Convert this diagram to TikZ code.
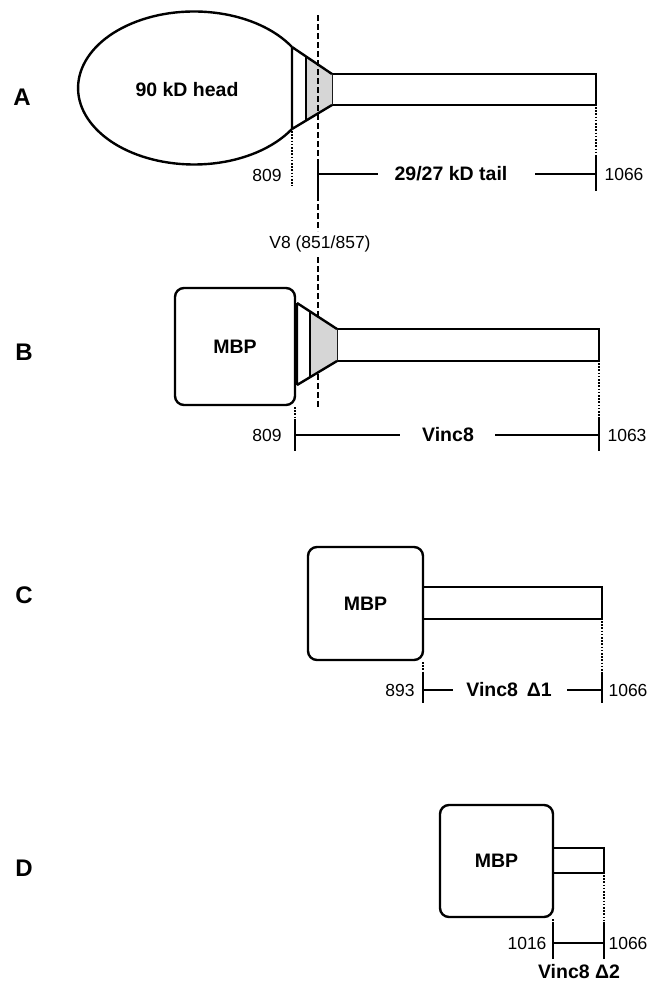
\documentclass[tikz,border=0pt]{standalone}
\usepackage{fontspec}
\setmainfont{Liberation Sans}
\begin{document}
\begin{tikzpicture}[x=1pt,y=-1pt,
  outline/.style={draw=black, line width=2.4pt, line join=round},
  tailbox/.style={draw=black, line width=2.4pt, inner sep=0pt, outer sep=0pt},
  mbpbox/.style={draw=black, line width=2.4pt, rounded corners=9pt, inner sep=0pt, outer sep=0pt,
                 font=\bfseries\fontsize{19.5}{22}\selectfont},
  band/.style={draw=black, line width=1.8pt},
  shadefill/.style={fill=black!16},
  dimline/.style={draw=black, line width=2pt},
  tickline/.style={draw=black, line width=2.4pt},
  dotline/.style={draw=black, line width=1.8pt, dash pattern=on 1.6pt off 1.6pt},
  cutline/.style={draw=black, line width=2pt, dash pattern=on 6pt off 3pt},
  lbl/.style={font=\fontsize{17.5}{20}\selectfont, inner sep=0pt},
  blbl/.style={font=\bfseries\fontsize{19.5}{22}\selectfont, inner sep=0pt},
  letter/.style={font=\bfseries\fontsize{24}{28}\selectfont, inner sep=0pt}]
\useasboundingbox (0,0) rectangle (652,985);

% ---------------- Panel A ----------------
\node[letter] (lA) at (22,97) {A};
\draw[outline] (292,47) arc[start angle=32.4, end angle=327.6, x radius=116pt, y radius=76.5pt];
\node[blbl] (head) at (187,90) {90 kD head};
\node[tailbox, minimum width=264, minimum height=31] (tailA) at (464,89.5) {};
\fill[shadefill] (306,56.5) -- (tailA.north west) -- (tailA.south west) -- (306,120.6) -- cycle;
\draw[outline] (292,47) -- (tailA.north west) (292,129) -- (tailA.south west) (292,47) -- (292,129);
\draw[band] (306,56.5) -- (306,120.6);
\draw[dotline] (292,131) -- (292,186);
\node[lbl] (n809A) at (267,175) {809};
\draw[dotline] (tailA.south east) ++(0,2) -- (596,156);
\coordinate (tAl) at (318,174);
\coordinate (tAr) at (596,174);
\draw[tickline] (318,160) -- (318,201);
\draw[tickline] (596,156) -- (596,191);
\node[blbl] (tailtxt) at (451,174) {29/27 kD tail};
\draw[dimline] (tAl) -- (378,174);
\draw[dimline] (535,174) -- (tAr);
\node[lbl] (n1066A) at (624,174) {1066};
% V8 cut
\node[lbl] (v8) at (320,244) {V8 (851/857)};
\draw[cutline] (318,15) -- (318,231);
\draw[cutline] (318,257) -- (318,408);

% ---------------- Panel B ----------------
\node[letter] (lB) at (24,352) {B};
\node[mbpbox, minimum width=120, minimum height=117] (mbpB) at (235,346.5) {MBP};
\node[tailbox, minimum width=262, minimum height=32] (tailB) at (468,345) {};
\fill[shadefill] (310,311.8) -- (tailB.north west) -- (tailB.south west) -- (310,377) -- cycle;
\draw[outline] (297,303) -- (tailB.north west) (297,385) -- (tailB.south west) (297,303) -- (297,385);
\draw[band] (310,311.8) -- (310,377);
\draw[dotline] (295,407) -- (295,419);
\draw[dotline] (tailB.south east) ++(0,2) -- (599,419);
\draw[tickline] (295,419) -- (295,451);
\draw[tickline] (599,419) -- (599,451);
\node[blbl] (vinc8) at (448,435) {Vinc8};
\draw[dimline] (295,435) -- (400,435);
\draw[dimline] (495,435) -- (599,435);
\node[lbl] (n809B) at (267,435) {809};
\node[lbl] (n1063B) at (627,435) {1063};

% ---------------- Panel C ----------------
\node[letter] (lC) at (24,595) {C};
\node[mbpbox, minimum width=115, minimum height=113] (mbpC) at (365.5,603.5) {MBP};
\node[tailbox, minimum width=179, minimum height=32] (tailC) at (512.5,603) {};
\draw[dotline] (mbpC.south east) ++(0,2) -- (423,672);
\draw[dotline] (tailC.south east) ++(0,2) -- (602,672);
\draw[tickline] (423,672) -- (423,703);
\draw[tickline] (602,672) -- (602,703);
\node[blbl] (vinc8d1) at (509,690) {Vinc8\hspace{0.45em}Δ1};
\draw[dimline] (423,690) -- (453,690);
\draw[dimline] (567,690) -- (602,690);
\node[lbl] (n893C) at (400,690) {893};
\node[lbl] (n1066C) at (628,690) {1066};

% ---------------- Panel D ----------------
\node[letter] (lD) at (24,868) {D};
\node[mbpbox, minimum width=113, minimum height=112] (mbpD) at (496.5,861) {MBP};
\node[tailbox, minimum width=51, minimum height=25] (tailD) at (578.5,860.5) {};
\draw[dotline] (mbpD.south east) ++(0,2) -- (553,922);
\draw[dotline] (tailD.south east) ++(0,2) -- (604,922);
\draw[tickline] (553,922) -- (553,959);
\draw[tickline] (604,922) -- (604,959);
\draw[dimline] (553,943) -- (604,943);
\node[lbl] (n1016D) at (527,943) {1016};
\node[lbl] (n1066D) at (628,943) {1066};
\node[blbl] (vinc8d2) at (579,972) {Vinc8 Δ2};
\end{tikzpicture}
\end{document}
